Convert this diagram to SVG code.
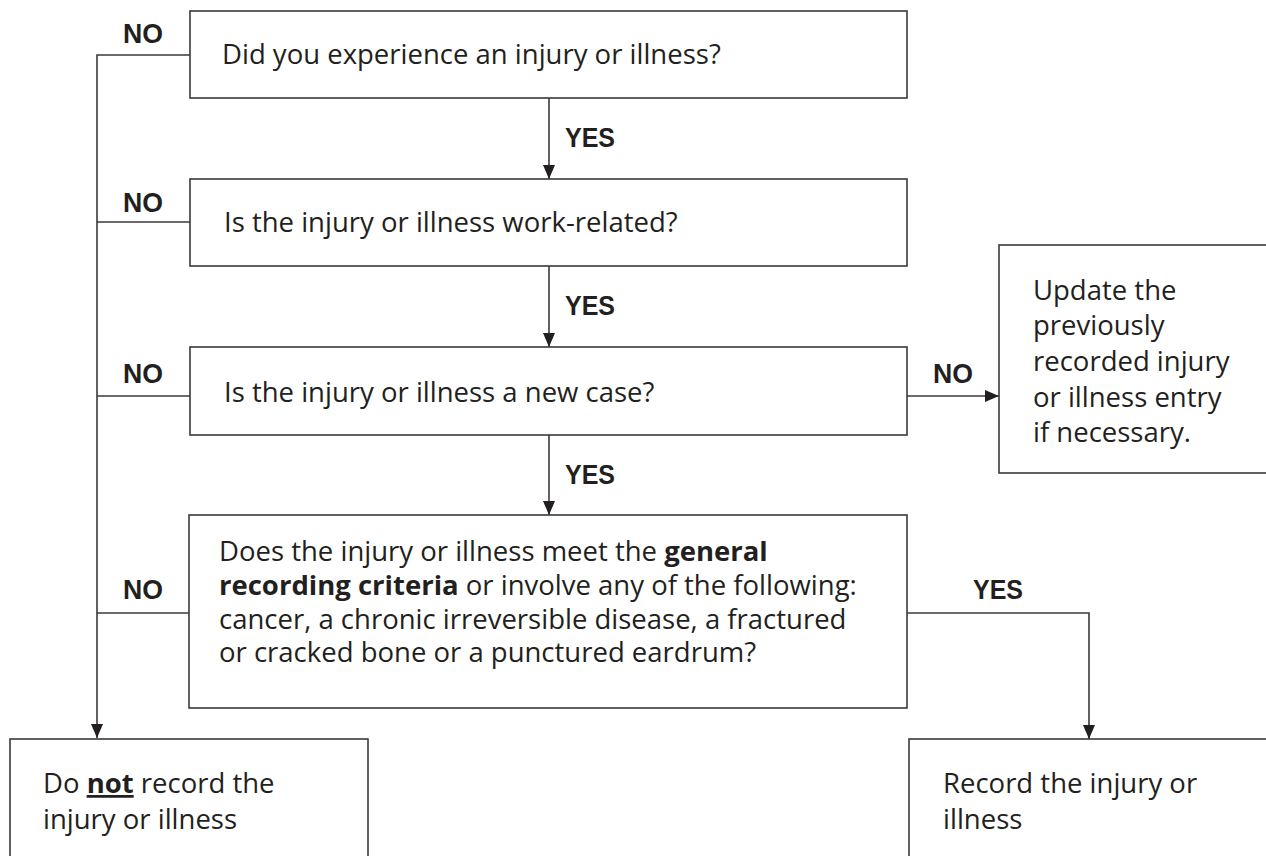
<svg xmlns="http://www.w3.org/2000/svg" width="1266" height="856" viewBox="0 0 1266 856">
<defs>
<style>
.box{fill:#fff;stroke:#3a3a3a;stroke-width:1.6}
.ln{fill:none;stroke:#3a3a3a;stroke-width:1.6}
.t{font-family:"Open Sans","Liberation Sans",sans-serif;font-size:27.5px;fill:#231f20}
.lb{font-family:"Liberation Sans",Arial,sans-serif;font-size:27px;font-weight:bold;fill:#231f20}
.b{font-weight:bold}
</style>
<marker id="ahv" viewBox="0 0 14 12" refX="14" refY="6" markerWidth="15" markerHeight="12" markerUnits="userSpaceOnUse" orient="auto">
<path d="M0,0 L14,6 L0,12 z" fill="#231f20"/>
</marker>
</defs>
<rect width="1266" height="856" fill="#fff"/>
<g id="connectors">
<path class="ln" d="M190,55 H97 V738" marker-end="url(#ahv)"/>
<path class="ln" d="M190,222 H97"/>
<path class="ln" d="M190,396 H97"/>
<path class="ln" d="M190,613 H97"/>
<path class="ln" d="M549,98 V179" marker-end="url(#ahv)"/>
<path class="ln" d="M549,266 V347" marker-end="url(#ahv)"/>
<path class="ln" d="M549,435 V515" marker-end="url(#ahv)"/>
<path class="ln" d="M907,396 H999" marker-end="url(#ahv)"/>
<path class="ln" d="M907,613 H1089 V739" marker-end="url(#ahv)"/>
<text class="lb" x="123" y="43" textLength="40" lengthAdjust="spacingAndGlyphs">NO</text>
<text class="lb" x="123" y="212" textLength="40" lengthAdjust="spacingAndGlyphs">NO</text>
<text class="lb" x="123" y="383" textLength="40" lengthAdjust="spacingAndGlyphs">NO</text>
<text class="lb" x="123" y="599" textLength="40" lengthAdjust="spacingAndGlyphs">NO</text>
<text class="lb" x="933" y="383" textLength="40" lengthAdjust="spacingAndGlyphs">NO</text>
<text class="lb" x="565" y="147" textLength="50" lengthAdjust="spacingAndGlyphs">YES</text>
<text class="lb" x="565" y="315" textLength="50" lengthAdjust="spacingAndGlyphs">YES</text>
<text class="lb" x="565" y="484" textLength="50" lengthAdjust="spacingAndGlyphs">YES</text>
<text class="lb" x="973" y="599" textLength="50" lengthAdjust="spacingAndGlyphs">YES</text>
</g>
<g id="q1">
<rect class="box" x="190" y="11" width="717" height="87"/>
<text class="t" x="222" y="64">Did you experience an injury or illness?</text>
</g>
<g id="q2">
<rect class="box" x="190" y="179" width="717" height="87"/>
<text class="t" x="224" y="232">Is the injury or illness work-related?</text>
</g>
<g id="q3">
<rect class="box" x="190" y="347" width="717" height="88"/>
<text class="t" x="224" y="402">Is the injury or illness a new case?</text>
</g>
<g id="q4">
<rect class="box" x="189" y="515" width="718" height="193"/>
<text class="t" x="219" y="561">Does the injury or illness meet the <tspan class="b">general</tspan></text>
<text class="t" x="219" y="595"><tspan class="b">recording criteria</tspan> or involve any of the following:</text>
<text class="t" x="219" y="629">cancer, a chronic irreversible disease, a fractured</text>
<text class="t" x="219" y="662">or cracked bone or a punctured eardrum?</text>
</g>
<g id="update">
<rect class="box" x="999" y="245" width="280" height="228"/>
<text class="t" x="1033" y="300">Update the</text>
<text class="t" x="1033" y="335">previously</text>
<text class="t" x="1033" y="371">recorded injury</text>
<text class="t" x="1033" y="407">or illness entry</text>
<text class="t" x="1033" y="442">if necessary.</text>
</g>
<g id="norecord">
<rect class="box" x="10" y="739" width="358" height="130"/>
<text class="t" x="43" y="793">Do <tspan class="b" text-decoration="underline">not</tspan> record the</text>
<text class="t" x="43" y="829">injury or illness</text>
</g>
<g id="record">
<rect class="box" x="909" y="739" width="370" height="130"/>
<text class="t" x="943" y="793">Record the injury or</text>
<text class="t" x="943" y="829">illness</text>
</g>
</svg>
